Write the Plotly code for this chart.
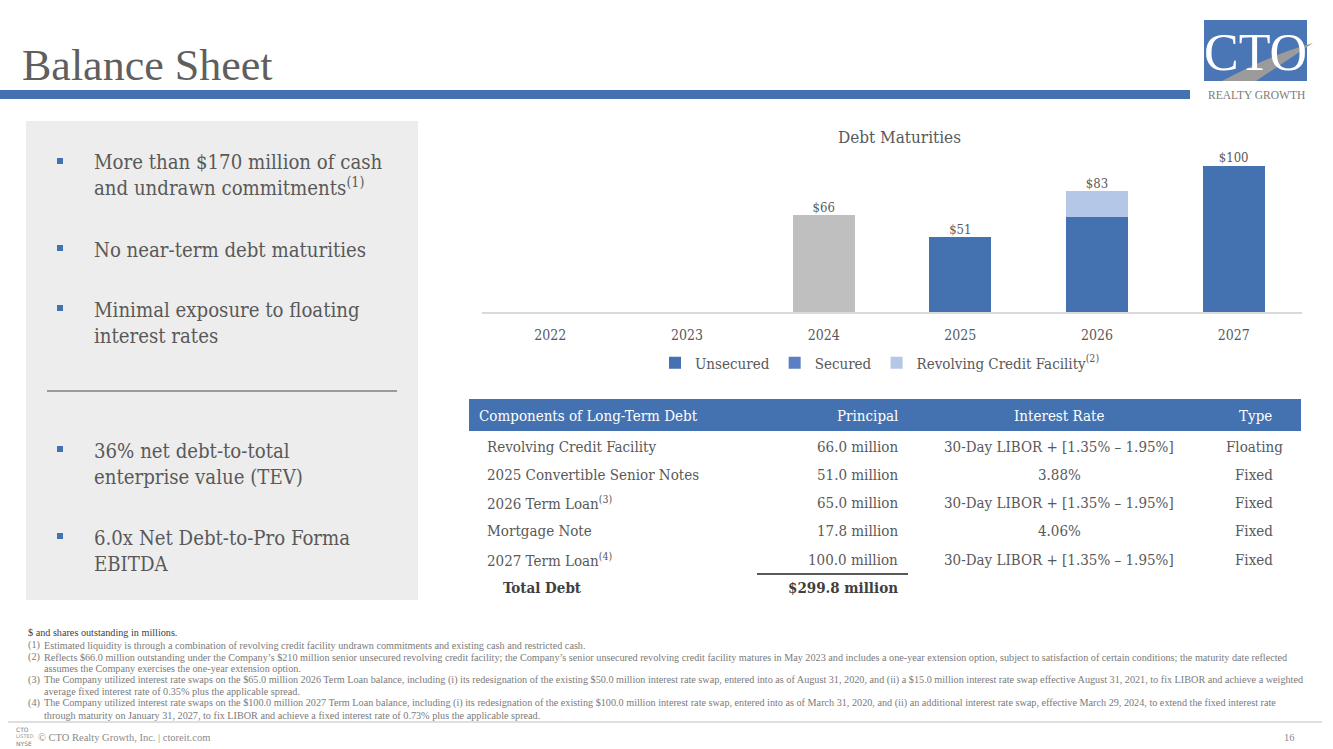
import plotly.graph_objects as go

W, H = 1333, 749
def X(px): return px / W
def Y(py): return 1 - py / H

# ---------------- data ----------------
years = ["2022", "2023", "2024", "2025", "2026", "2027"]
unsecured = [0, 0, 0, 51.0, 65.0, 100.0]
secured = [0, 0, 0, 0, 17.8, 0]
revolving = [0, 0, 66.0, 0, 0, 0]

table_header = ["Components of Long-Term Debt", "Principal", "Interest Rate", "Type"]
components = ["Revolving Credit Facility", "2025 Convertible Senior Notes",
              "2026 Term Loan<sup>(3)</sup>", "Mortgage Note", "2027 Term Loan<sup>(4)</sup>"]
principal = ["66.0 million", "51.0 million", "65.0 million", "17.8 million", "100.0 million"]
rates = ["30-Day LIBOR + [1.35% – 1.95%]", "3.88%", "30-Day LIBOR + [1.35% – 1.95%]",
         "4.06%", "30-Day LIBOR + [1.35% – 1.95%]"]
types = ["Floating", "Fixed", "Fixed", "Fixed", "Fixed"]
total_label = ["Total Debt", "$299.8 million"]

bullets_top = ["More than $170 million of cash<br>and undrawn commitments<sup>(1)</sup>",
               "No near-term debt maturities",
               "Minimal exposure to floating<br>interest rates"]
bullets_bottom = ["36% net debt-to-total<br>enterprise value (TEV)",
                  "6.0x Net Debt-to-Pro Forma<br>EBITDA"]

footnotes = [
    ("", "$ and shares outstanding in millions."),
    ("(1)", "Estimated liquidity is through a combination of revolving credit facility undrawn commitments and existing cash and restricted cash."),
    ("(2)", "Reflects $66.0 million outstanding under the Company’s $210 million senior unsecured revolving credit facility; the Company’s senior unsecured revolving credit facility matures in May 2023 and includes a one-year extension option, subject to satisfaction of certain conditions; the maturity date reflected"),
    ("", "assumes the Company exercises the one-year extension option."),
    ("(3)", "The Company utilized interest rate swaps on the $65.0 million 2026 Term Loan balance, including (i) its redesignation of the existing $50.0 million interest rate swap, entered into as of August 31, 2020, and (ii) a $15.0 million interest rate swap effective August 31, 2021, to fix LIBOR and achieve a weighted"),
    ("", "average fixed interest rate of 0.35% plus the applicable spread."),
    ("(4)", "The Company utilized interest rate swaps on the $100.0 million 2027 Term Loan balance, including (i) its redesignation of the existing $100.0 million interest rate swap, entered into as of March 31, 2020, and (ii) an additional interest rate swap, effective March 29, 2024, to extend the fixed interest rate"),
    ("", "through maturity on January 31, 2027, to fix LIBOR and achieve a fixed interest rate of 0.73% plus the applicable spread."),
]

# ---------------- styles ----------------
BLUE = "#4472B0"
MID_BLUE = "#5B7FC4"
LIGHT_BLUE = "#B4C7E7"
GREY_BAR = "#BFBFBF"
TXT = "#595959"
BODY_FONT = "DejaVu Serif Condensed, DejaVu Serif, serif"
SERIF = "Liberation Serif, Times New Roman, serif"

totals = [u + s + r for u, s, r in zip(unsecured, secured, revolving)]
label_x = [yr for yr, t in zip(years, totals) if t > 0]
label_y = [t for t in totals if t > 0]
label_text = ["$%d" % round(t) for t in label_y]

fig = go.Figure()
fig.add_trace(go.Bar(x=years, y=unsecured, name="Unsecured",
                     marker=dict(color=BLUE, line=dict(width=0))))
fig.add_trace(go.Bar(x=years, y=secured, name="Secured",
                     marker=dict(color=[MID_BLUE, MID_BLUE, MID_BLUE, MID_BLUE, LIGHT_BLUE, MID_BLUE],
                                 line=dict(width=0))))
fig.add_trace(go.Bar(x=years, y=revolving, name="Revolving Credit Facility<sup>(2)</sup>",
                     marker=dict(color=[LIGHT_BLUE, LIGHT_BLUE, GREY_BAR, LIGHT_BLUE, LIGHT_BLUE, LIGHT_BLUE],
                                 line=dict(width=0))))
fig.add_trace(go.Scatter(x=label_x, y=label_y, mode="text", text=label_text,
                         textposition="top center", showlegend=False, hoverinfo="skip",
                         textfont=dict(family=BODY_FONT, size=13, color=TXT)))

fig.update_layout(
    width=W, height=H, margin=dict(l=0, r=0, t=0, b=0, pad=0),
    paper_bgcolor="white", plot_bgcolor="white",
    barmode="stack", bargap=0.545,
    xaxis=dict(domain=[X(482), X(1302)], showgrid=False, showline=True,
               linecolor="#D9D9D9", linewidth=2, ticks="", ticklabelstandoff=9,
               categoryorder="array", categoryarray=years,
               tickfont=dict(family=BODY_FONT, size=14, color=TXT)),
    yaxis=dict(domain=[Y(312), Y(151)], range=[0, 110], visible=False),
    legend=dict(orientation="h", x=X(880), xanchor="center", y=Y(363), yanchor="middle",
                font=dict(family=BODY_FONT, size=15, color=TXT), traceorder="normal",
                itemwidth=30, bgcolor="rgba(0,0,0,0)"),
    showlegend=True,
)

shapes = []
ann = []

def text(x, y, s, size, color=TXT, family=BODY_FONT, xanchor="left", yanchor="middle", bold=False):
    if bold:
        s = "<b>" + s + "</b>"
    ann.append(dict(x=X(x), y=Y(y), xref="paper", yref="paper", text=s, showarrow=False,
                    xanchor=xanchor, yanchor=yanchor, align=xanchor if xanchor != "center" else "center",
                    font=dict(family=family, size=size, color=color)))

# title & header rule
text(20, 66, "Balance Sheet", 44, color="#5f5f5f", family=SERIF)
shapes.append(dict(type="rect", xref="paper", yref="paper", x0=0, x1=X(1190), y0=Y(99), y1=Y(90),
                   fillcolor=BLUE, line=dict(width=0)))

# logo
shapes.append(dict(type="rect", xref="paper", yref="paper", x0=X(1204), x1=X(1307), y0=Y(81), y1=Y(20),
                   fillcolor="#4A76B6", line=dict(width=0)))
shapes.append(dict(type="path", xref="paper", yref="paper",
                   path="M %f %f Q %f %f %f %f L %f %f Z" % (X(1222), Y(81), X(1270), Y(55), X(1313), Y(43),
                                                            X(1256), Y(81)),
                   fillcolor="#9B9B9B", line=dict(width=0)))
text(1255, 53, "CTO", 52, color="white", family=SERIF, xanchor="center")
text(1256, 95, "REALTY GROWTH", 11.5, color="#7a7a7a", family=SERIF, xanchor="center")

# left panel
shapes.append(dict(type="rect", xref="paper", yref="paper", x0=X(26), x1=X(418), y0=Y(600), y1=Y(121),
                   fillcolor="#EDEDED", line=dict(width=0)))
shapes.append(dict(type="line", xref="paper", yref="paper", x0=X(47), x1=X(397), y0=Y(391), y1=Y(391),
                   line=dict(color="#7F7F7F", width=1.3)))
bullet_y = [161, 248, 308]
bullet_y2 = [449, 536]
for s, yy in zip(bullets_top + bullets_bottom, bullet_y + bullet_y2):
    text(92, yy - 12.5, s, 20.2, yanchor="top")
    shapes.append(dict(type="rect", xref="paper", yref="paper", x0=X(57), x1=X(63), y0=Y(yy + 3), y1=Y(yy - 3),
                       fillcolor=BLUE, line=dict(width=0)))

# chart title
text(899, 137, "Debt Maturities", 17, xanchor="center")

# table
shapes.append(dict(type="rect", xref="paper", yref="paper", x0=X(469), x1=X(1301), y0=Y(431), y1=Y(399),
                   fillcolor=BLUE, line=dict(width=0)))
text(477, 416, table_header[0], 15, color="white")
text(900, 416, table_header[1], 15, color="white", xanchor="right")
text(1059, 416, table_header[2], 15, color="white", xanchor="center")
text(1255, 416, table_header[3], 15, color="white", xanchor="center")
row_y = [447, 475, 503, 531, 560]
for c, p, r, t, yy in zip(components, principal, rates, types, row_y):
    text(485, yy, c, 15)
    text(900, yy, p, 15, xanchor="right")
    text(1059, yy, r, 15, xanchor="center")
    text(1254, yy, t, 15, xanchor="center")
shapes.append(dict(type="line", xref="paper", yref="paper", x0=X(757), x1=X(908), y0=Y(574), y1=Y(574),
                   line=dict(color="#222222", width=1.5)))
text(501, 588, total_label[0], 15, color="#404040", bold=True)
text(900, 588, total_label[1], 15, color="#404040", xanchor="right", bold=True)

# footnotes
FN = 10.2
fy = [632, 645, 657, 668, 680, 691, 703, 715]
for (num, s), yy in zip(footnotes, fy):
    if num == "" and yy == 632:
        text(26, yy, s, FN, color="#404040", family=SERIF)
        continue
    if num:
        text(26, yy, num, FN, color="#7a7a7a", family=SERIF)
    text(42, yy, s, FN, color="#7a7a7a", family=SERIF)

# footer
shapes.append(dict(type="line", xref="paper", yref="paper", x0=X(8), x1=X(1322), y0=Y(722), y1=Y(722),
                   line=dict(color="#BFBFBF", width=1)))
text(14, 729, "CTO", 6, color="#7a7a7a", family="DejaVu Sans")
text(14, 736, "LISTED", 5, color="#9a9a9a", family="DejaVu Sans")
text(14, 743, "NYSE", 6, color="#7a7a7a", family="DejaVu Sans")
text(36, 737, "© CTO Realty Growth, Inc. | ctoreit.com", 10.5, color="#8a8a8a", family=SERIF)
text(1297, 737, "16", 10.5, color="#8a8a8a", family=SERIF, xanchor="right")

fig.update_layout(shapes=shapes, annotations=ann)
fig.write_html("out.html", config={"displayModeBar": False},
               post_script="document.body.style.margin='0';")
